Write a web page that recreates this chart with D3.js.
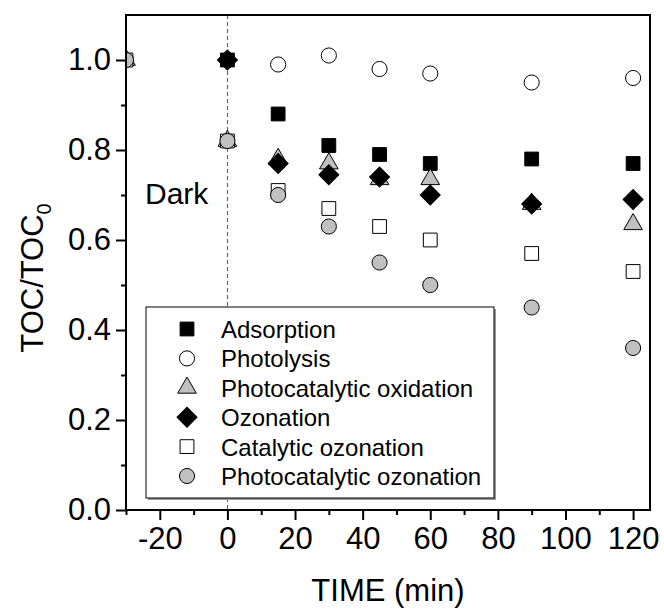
<!DOCTYPE html>
<html>
<head>
<meta charset="utf-8">
<script src="https://cdn.jsdelivr.net/npm/d3@7"></script>
<style>
    body { margin: 0; background: white; }
    text { font-family: "Liberation Sans", Arial, sans-serif; fill: black; }
</style>
</head>
<body>
<div id="chart"></div>
<script>
// Sampling times (min); the catalyst runs also have a dark point at -30
var timesDark = [-30, 0, 15, 30, 45, 60, 90, 120];
var timesLight = [0, 15, 30, 45, 60, 90, 120];

// TOC/TOC0
var adsorption = [1.0, 0.88, 0.81, 0.79, 0.77, 0.78, 0.77];
var photolysis = [1.0, 0.99, 1.01, 0.98, 0.97, 0.95, 0.96];
var photocatOxidation = [1.0, 0.82, 0.78, 0.77, 0.735, 0.735, 0.68, 0.635];
var ozonation = [1.0, 0.77, 0.745, 0.74, 0.70, 0.68, 0.69];
var catalyticOzonation = [1.0, 0.82, 0.71, 0.67, 0.63, 0.60, 0.57, 0.53];
var photocatOzonation = [1.0, 0.82, 0.70, 0.63, 0.55, 0.50, 0.45, 0.36];

var seriesNames = ["Adsorption", "Photolysis", "Photocatalytic oxidation", "Ozonation",
    "Catalytic ozonation", "Photocatalytic ozonation"];

var xMajor = [-20, 0, 20, 40, 60, 80, 100, 120];
var xMinor = [-30, -10, 10, 30, 50, 70, 90, 110];
var yMajor = [0, 0.2, 0.4, 0.6, 0.8, 1.0];
var yMinor = [0.1, 0.3, 0.5, 0.7, 0.9];

// marker styles per series
var markers = [
    {shape: "square", fill: "black", times: timesLight, values: adsorption},
    {shape: "circle", fill: "white", times: timesLight, values: photolysis},
    {shape: "triangle", fill: "#c0c0c0", times: timesDark, values: photocatOxidation},
    {shape: "diamond", fill: "black", times: timesLight, values: ozonation},
    {shape: "square", fill: "white", times: timesDark, values: catalyticOzonation},
    {shape: "circle", fill: "#c0c0c0", times: timesDark, values: photocatOzonation}
];
markers.forEach(function (m, i) { m.name = seriesNames[i]; });

var svg = d3.select("#chart")
    .append("svg")
    .attr("width", 664)
    .attr("height", 610);

var plotLeft = 126, plotRight = 650, plotTop = 15, plotBottom = 510;

var x = d3.scaleLinear().domain([-30, 125]).range([plotLeft, plotRight]);
var y = d3.scaleLinear().domain([0, 1.1]).range([plotBottom, plotTop]);

//Builds the path for a marker
function markerPath(shape) {
    if (shape === "square") return d3.symbol().type(d3.symbolSquare).size(190)();
    if (shape === "circle") return d3.symbol().type(d3.symbolCircle).size(180)();
    if (shape === "triangle") return d3.symbol().type(d3.symbolTriangle).size(150)();
    return d3.symbol().type(d3.symbolSquare).size(200)();
}
function markerRotate(shape) {
    return shape === "diamond" ? " rotate(45)" : "";
}

// dashed line marking the end of the dark period
svg.append("line")
    .attr("x1", x(0)).attr("x2", x(0))
    .attr("y1", plotTop).attr("y2", plotBottom)
    .attr("stroke", "#555")
    .attr("stroke-width", 1)
    .attr("stroke-dasharray", "4,3");

// clip the points to the plot box
svg.append("clipPath").attr("id", "plotClip")
    .append("rect")
    .attr("x", plotLeft).attr("y", plotTop)
    .attr("width", plotRight - plotLeft).attr("height", plotBottom - plotTop);

var pointsG = svg.append("g").attr("clip-path", "url(#plotClip)");

markers.forEach(function (m) {
    pointsG.append("g")
        .selectAll("path")
        .data(m.values)
        .enter()
        .append("path")
        .attr("d", markerPath(m.shape))
        .attr("transform", function (d, i) {
            return "translate(" + x(m.times[i]) + "," + y(d) + ")" + markerRotate(m.shape);
        })
        .attr("fill", m.fill)
        .attr("stroke", "black")
        .attr("stroke-width", 1);
});

//Axes
svg.append("g")
    .attr("transform", "translate(0," + plotBottom + ")")
    .call(d3.axisBottom(x).tickValues(xMajor).tickSize(10).tickPadding(7)
        .tickFormat(function (d) { return String(d); }));
svg.append("g")
    .attr("transform", "translate(0," + plotBottom + ")")
    .call(d3.axisBottom(x).tickValues(xMinor).tickSize(5).tickFormat(""));

svg.append("g")
    .attr("transform", "translate(" + plotLeft + ",0)")
    .call(d3.axisLeft(y).tickValues(yMajor).tickSize(10).tickPadding(5)
        .tickFormat(function (d) { return d.toFixed(1); }));
svg.append("g")
    .attr("transform", "translate(" + plotLeft + ",0)")
    .call(d3.axisLeft(y).tickValues(yMinor).tickSize(5).tickFormat(""));

svg.selectAll(".domain").remove();
svg.selectAll(".tick line").attr("stroke", "black").attr("stroke-width", 2);
svg.selectAll(".tick text")
    .attr("font-size", "31px")
    .attr("font-family", "Liberation Sans, Arial, sans-serif")
    .attr("fill", "black");

// frame round the plot
svg.append("rect")
    .attr("x", plotLeft).attr("y", plotTop)
    .attr("width", plotRight - plotLeft).attr("height", plotBottom - plotTop)
    .attr("fill", "none")
    .attr("stroke", "black")
    .attr("stroke-width", 2);

//Axis titles
svg.append("text")
    .attr("x", (plotLeft + plotRight) / 2)
    .attr("y", 601)
    .attr("text-anchor", "middle")
    .attr("font-size", "31px")
    .text("TIME (min)");

var yTitle = svg.append("text")
    .attr("transform", "translate(43,278) rotate(-90)")
    .attr("text-anchor", "middle")
    .attr("font-size", "31px");
yTitle.append("tspan").text("TOC/TOC");
yTitle.append("tspan").attr("font-size", "20px").attr("dy", 8).text("0");

svg.append("text")
    .attr("x", 145)
    .attr("y", 204)
    .attr("font-size", "30px")
    .text("Dark");

//Legend
var legX = 146, legY = 307, legW = 348, legH = 191, rowH = 29.4;
svg.append("rect")
    .attr("x", legX + 2).attr("y", legY + 2)
    .attr("width", legW).attr("height", legH)
    .attr("fill", "#999");
svg.append("rect")
    .attr("x", legX).attr("y", legY)
    .attr("width", legW).attr("height", legH)
    .attr("fill", "white")
    .attr("stroke", "black")
    .attr("stroke-width", 1);

var legend = svg.append("g")
    .selectAll("g")
    .data(markers)
    .enter()
    .append("g")
    .attr("transform", function (d, i) {
        return "translate(" + (legX + 41) + "," + (legY + 22 + i * rowH) + ")";
    });

legend.append("path")
    .attr("d", function (d) { return markerPath(d.shape); })
    .attr("transform", function (d) { return markerRotate(d.shape).trim(); })
    .attr("fill", function (d) { return d.fill; })
    .attr("stroke", "black")
    .attr("stroke-width", 1);

legend.append("text")
    .attr("x", 34)
    .attr("y", 9)
    .attr("font-size", "24px")
    .text(function (d) { return d.name; });
</script>
</body>
</html>
